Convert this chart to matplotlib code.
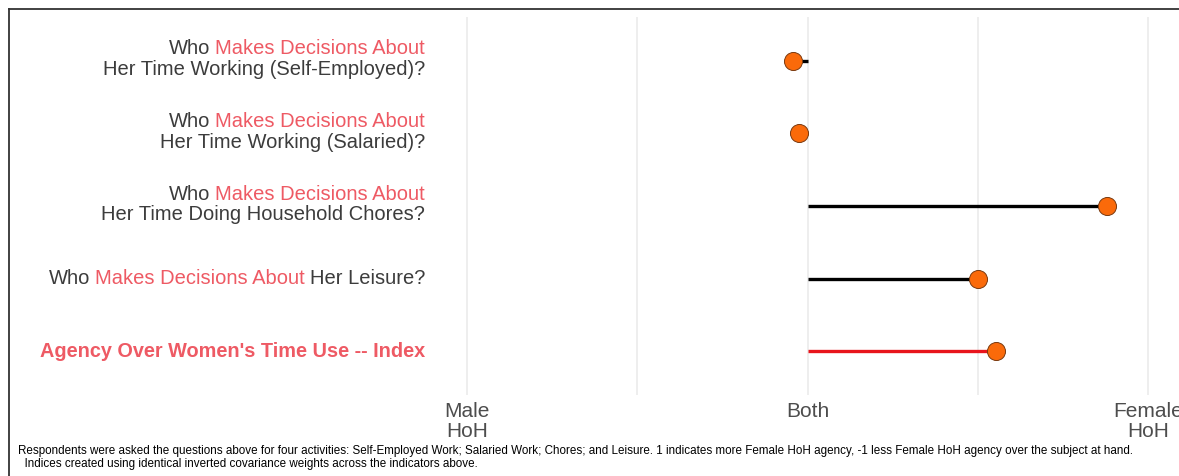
import matplotlib
matplotlib.use("Agg")
import matplotlib.pyplot as plt
import matplotlib.transforms as mtransforms

plt.rcParams['font.family'] = ['Liberation Sans', 'DejaVu Sans']

# ---- data ----
questions = [
    "Self-Employed", "Salaried", "Chores", "Leisure", "Index",
]
values = [-0.043, -0.025, 0.880, 0.500, 0.554]
line_colors = ["black", "black", "black", "black", "#e8141c"]
x_ticks = [-1, -0.5, 0, 0.5, 1]
x_tick_labels = ["Male\nHoH", "", "Both", "", "Female\nHoH"]

# label pieces, each line drawn right to left: (text, color, bold)
GRAY = "#3c3c3c"
RED = "#ee5a64"
label_lines = [
    [[("Who", GRAY, False), ("Makes Decisions About", RED, False)],
     [("Her Time Working (Self-Employed)?", GRAY, False)]],
    [[("Who", GRAY, False), ("Makes Decisions About", RED, False)],
     [("Her Time Working (Salaried)?", GRAY, False)]],
    [[("Who", GRAY, False), ("Makes Decisions About", RED, False)],
     [("Her Time Doing Household Chores?", GRAY, False)]],
    [[("Who", GRAY, False), ("Makes Decisions About", RED, False), ("Her Leisure?", GRAY, False)]],
    [[("Agency Over Women's Time Use -- Index", RED, True)]],
]
caption = ("Respondents were asked the questions above for four activities: Self-Employed Work; Salaried Work; "
           "Chores; and Leisure. 1 indicates more Female HoH agency, -1 less Female HoH agency over the subject at hand.\n"
           "  Indices created using identical inverted covariance weights across the indicators above.")

W, H = 1179, 476
fig = plt.figure(figsize=(W / 100, H / 100), dpi=100)

# axes geometry in pixels
ax_left, ax_right, ax_top, ax_bottom = 440, 1179, 17, 395
ax = fig.add_axes([ax_left / W, 1 - ax_bottom / H, (ax_right - ax_left) / W, (ax_bottom - ax_top) / H])
px_per_unit = (1148 - 467) / 2.0
ax.set_xlim(-1 - (467 - ax_left) / px_per_unit, 1 + (ax_right - 1148) / px_per_unit)
n = len(values)
ypos = [n - i for i in range(n)]
ax.set_ylim(0.4, n + 0.6)

for s in ax.spines.values():
    s.set_visible(False)
ax.set_xticks(x_ticks)
ax.set_xticklabels(x_tick_labels, fontsize=15, color="#4d4d4d", linespacing=1.1)
ax.tick_params(axis='x', length=0, pad=5)
ax.set_yticks([])
ax.grid(axis='x', color="#ebebeb", linewidth=1.2)
ax.set_axisbelow(True)
ax.patch.set_alpha(0)

for y, v, c in zip(ypos, values, line_colors):
    ax.plot([0, v], [y, y], color=c, linewidth=2.4, solid_capstyle='butt', zorder=2)
    ax.plot([v], [y], marker='o', markersize=13, markerfacecolor="#fa6a0a",
            markeredgecolor="#7a3a10", markeredgewidth=0.7, zorder=3, linestyle='none')

# labels
trans = mtransforms.blended_transform_factory(fig.transFigure, ax.transData)
x_right = 425 / W
FS = 14.5
GAP = 5


def draw_line(pieces, y, dy):
    prev = None
    for text, color, bold in reversed(pieces):
        kw = dict(fontsize=14.3 if bold else FS, color=color, fontweight='bold' if bold else 'normal',
                  ha='right', va='center', textcoords='offset pixels', annotation_clip=False)
        if prev is None:
            prev = ax.annotate(text, xy=(x_right, y), xycoords=trans, xytext=(0, dy), **kw)
        else:
            prev = ax.annotate(text, xy=(0, 0.5), xycoords=prev, xytext=(-GAP, 0), **kw)


for y, lines in zip(ypos, label_lines):
    if len(lines) == 2:
        draw_line(lines[0], y, 12)
        draw_line(lines[1], y, -9)
    else:
        draw_line(lines[0], y, 0)

fig.text(18 / W, 1 - 445 / H, caption, fontsize=8.4, color="black", ha='left', va='top', linespacing=1.08)

# frame lines (top and left)
fig.add_artist(plt.Line2D([9 / W, 1.0], [1 - 9 / H, 1 - 9 / H], transform=fig.transFigure, color="#333333", linewidth=1.3))
fig.add_artist(plt.Line2D([9 / W, 9 / W], [0, 1 - 9 / H], transform=fig.transFigure, color="#333333", linewidth=1.3))

fig.savefig("out.png", dpi=100, facecolor="white")
